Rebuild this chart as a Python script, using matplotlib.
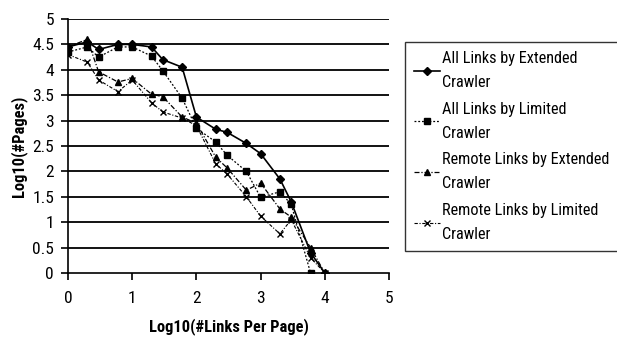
import matplotlib
matplotlib.use("Agg")
import matplotlib.pyplot as plt
import numpy as np
from matplotlib import font_manager
from matplotlib.font_manager import FontProperties

# ---- data ----
links_per_page = [1, 2, 3, 6, 10, 20, 30, 60, 100, 200, 300, 600, 1000, 2000, 3000, 6000, 10000]
all_ext = [4.45, 4.55, 4.4, 4.5, 4.5, 4.45, 4.2, 4.05, 3.07, 2.83, 2.77, 2.55, 2.35, 1.85, 1.4, 0.4, 0.0]
all_lim = [4.35, 4.45, 4.25, 4.45, 4.45, 4.27, 3.98, 3.44, 2.85, 2.58, 2.32, 2.0, 1.49, 1.6, 1.35, 0.0]
remote_ext = [4.45, 4.6, 3.96, 3.76, 3.83, 3.52, 3.47, 3.07, 2.95, 2.28, 2.07, 1.63, 1.77, 1.26, 1.1, 0.5, 0.0]
remote_lim = [4.3, 4.15, 3.8, 3.57, 3.8, 3.35, 3.17, 3.05, 2.9, 2.15, 1.95, 1.5, 1.12, 0.77, 1.05, 0.3, 0.0]
labels = ["All Links by Extended\nCrawler", "All Links by Limited\nCrawler",
          "Remote Links by Extended\nCrawler", "Remote Links by Limited\nCrawler"]
x_ticks = [0, 1, 2, 3, 4, 5]
y_ticks = [0, 0.5, 1, 1.5, 2, 2.5, 3, 3.5, 4, 4.5, 5]
y_ticklabels = ["0", "0.5", "1", "1.5", "2", "2.5", "3", "3.5", "4", "4.5", "5"]


def find_font(bold=False):
    keys = ["liberationsansnarrow", "robotocondensed", "dejavusanscondensed",
            "opensans_condensed", "opensans-condensed", "opensanscondensed"]
    files = [f.fname for f in font_manager.fontManager.ttflist]
    for k in keys:
        cands = [f for f in files if k in f.lower().replace(" ", "")]
        if not cands:
            continue
        def score(f):
            fl = f.lower().split("/")[-1]
            s = 0
            if "italic" in fl or "oblique" in fl:
                s += 10
            isb = "bold" in fl
            if bold != isb:
                s += 5
            for bad in ["light", "thin", "medium", "semi", "extra", "black"]:
                if bad in fl:
                    s += 3
            return s
        cands.sort(key=score)
        return cands[0]
    return None


reg_file = find_font(False)
bold_file = find_font(True)


def fp(size, bold=False):
    f = bold_file if bold else reg_file
    if f:
        return FontProperties(fname=f, size=size)
    return FontProperties(family="DejaVu Sans", size=size, weight="bold" if bold else "normal")


x = np.log10(links_per_page)

fig = plt.figure(figsize=(6.17, 3.45), dpi=100)
ax = fig.add_axes([68/617, 1 - 273/345, (389-68)/617, (273-19)/345])
renderer = fig.canvas.get_renderer()


def fit_size(text, target_px, bold=False, base=12.0):
    t = fig.text(0, 0, text, fontproperties=fp(base, bold))
    w = t.get_window_extent(renderer).width
    t.remove()
    return base * target_px / w


for yv in y_ticks[1:]:
    ax.axhline(yv, color='black', lw=1.3, zorder=1)

ax.plot(x, all_ext, color='black', lw=1.2, marker='D', ms=4.5, label=labels[0], zorder=3)
ax.plot(x[:len(all_lim)], all_lim, color='black', lw=0.9, ls=(0, (1.5, 1.5)), marker='s', ms=4.5, label=labels[1], zorder=3)
ax.plot(x, remote_ext, color='black', lw=0.9, ls=(0, (4, 1.5, 1, 1.5)), marker='^', ms=5, label=labels[2], zorder=3)
ax.plot(x, remote_lim, color='black', lw=0.8, ls=(0, (3, 1.5, 1, 1.5)), marker='x', ms=5, mew=1, label=labels[3], zorder=3)

ax.set_xlim(0, 5)
ax.set_ylim(0, 5)
ax.set_xticks(x_ticks)
ax.set_yticks(y_ticks)
ax.set_yticklabels(y_ticklabels)
ax.set_xticklabels([str(v) for v in x_ticks])
ax.spines['top'].set_visible(False)
ax.spines['right'].set_visible(False)
ax.spines['left'].set_linewidth(1.2)
ax.spines['bottom'].set_linewidth(1.2)
ax.tick_params(axis='y', direction='out', length=5, width=1.2, pad=5)
ax.tick_params(axis='x', direction='out', length=5, width=1.2, pad=8)

tick_size = 12.5
for lab in ax.get_xticklabels() + ax.get_yticklabels():
    lab.set_fontproperties(fp(tick_size, False))

xl_size = fit_size("Log10(#Links Per Page)", 160, bold=True)
ax.set_xlabel("Log10(#Links Per Page)", fontproperties=fp(xl_size, True), labelpad=9)
ax.set_ylabel("Log10(#Pages)", fontproperties=fp(xl_size, True), labelpad=4)

leg_size = fit_size("Remote Links by Extended", 168, bold=False)
leg = fig.legend(loc='upper left', bbox_to_anchor=(405/617, 1 - 42/345), prop=fp(leg_size),
                 frameon=True, fancybox=False, edgecolor='black', handlelength=1.6,
                 labelspacing=0.72, borderpad=0.55, borderaxespad=0, handletextpad=0.15)
for t in leg.get_texts():
    t.set_linespacing(1.75)
leg.get_frame().set_linewidth(1.0)

fig.savefig("out.png", dpi=100)
